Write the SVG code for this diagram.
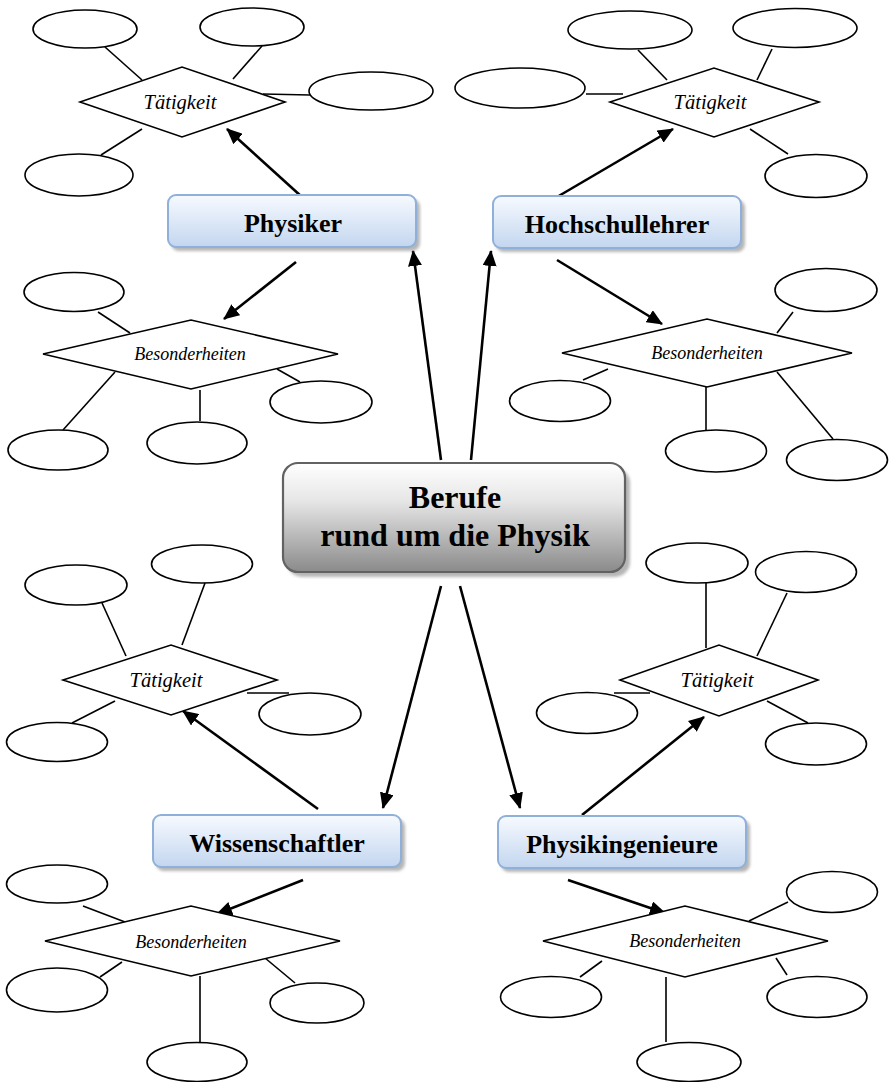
<svg xmlns="http://www.w3.org/2000/svg" width="893" height="1082" viewBox="0 0 893 1082">
  <defs>
    <linearGradient id="blueFill" x1="0" y1="0" x2="0" y2="1">
      <stop offset="0" stop-color="#f7faff"/>
      <stop offset="1" stop-color="#c3d6ef"/>
    </linearGradient>
    <linearGradient id="greyFill" x1="0" y1="0" x2="0" y2="1">
      <stop offset="0" stop-color="#ffffff"/>
      <stop offset="0.35" stop-color="#e6e6e6"/>
      <stop offset="1" stop-color="#8a8a8a"/>
    </linearGradient>
    <filter id="soft" x="-10%" y="-10%" width="120%" height="130%">
      <feGaussianBlur stdDeviation="1.5"/>
    </filter>
    <marker id="arrow" viewBox="0 0 16 14" refX="15" refY="7" markerWidth="16" markerHeight="14" orient="auto" markerUnits="userSpaceOnUse">
      <path d="M0,0 L16,7 L0,14 z" fill="#000"/>
    </marker>
  </defs>
  <style>
    .ell { fill: #fff; stroke: #000; stroke-width: 1.6; }
    .dia { fill: #fff; stroke: #000; stroke-width: 1.6; }
    .link { stroke: #000; stroke-width: 1.6; fill: none; }
    .arr { stroke: #000; stroke-width: 2.6; fill: none; marker-end: url(#arrow); }
    .box { fill: url(#blueFill); stroke: #8fb0d9; stroke-width: 2; }
    .shadow { fill: #7a7a7a; opacity: 0.55; filter: url(#soft); }
    .lbl { font-family: "Liberation Serif", "Times New Roman", serif; font-weight: bold; font-size: 26px; text-anchor: middle; fill: #000; }
    .act { font-family: "Liberation Serif", "Times New Roman", serif; font-style: italic; font-size: 20.5px; text-anchor: middle; fill: #000; }
    .spec { font-family: "Liberation Serif", "Times New Roman", serif; font-style: italic; font-size: 18px; text-anchor: middle; fill: #000; }
    .title { font-family: "Liberation Serif", "Times New Roman", serif; font-weight: bold; font-size: 32px; text-anchor: middle; fill: #000; }
  </style>

  <!-- connectors: attribute links and arrows -->
  <g id="connectors">
    <!-- Physiker / Tätigkeit -->
    <line class="link" x1="105" y1="47" x2="142" y2="80"/>
    <line class="link" x1="262" y1="46" x2="233" y2="79"/>
    <line class="link" x1="263" y1="94" x2="310" y2="95"/>
    <line class="link" x1="142" y1="129" x2="101" y2="155"/>
    <!-- Physiker / Besonderheiten -->
    <line class="link" x1="98" y1="312" x2="130" y2="333"/>
    <line class="link" x1="277" y1="369" x2="300" y2="382"/>
    <line class="link" x1="200" y1="390" x2="200" y2="421"/>
    <line class="link" x1="115" y1="372" x2="63" y2="430"/>
    <!-- Hochschullehrer / Tätigkeit -->
    <line class="link" x1="638" y1="50" x2="667" y2="80"/>
    <line class="link" x1="772" y1="49" x2="757" y2="80"/>
    <line class="link" x1="586" y1="94" x2="623" y2="94"/>
    <line class="link" x1="750" y1="129" x2="788" y2="154"/>
    <!-- Hochschullehrer / Besonderheiten -->
    <line class="link" x1="793" y1="312" x2="777" y2="333"/>
    <line class="link" x1="608" y1="369" x2="583" y2="380"/>
    <line class="link" x1="706" y1="387" x2="706" y2="430"/>
    <line class="link" x1="777" y1="372" x2="833" y2="439"/>
    <!-- Wissenschaftler / Tätigkeit -->
    <line class="link" x1="102" y1="603" x2="126" y2="656"/>
    <line class="link" x1="205" y1="583" x2="182" y2="645"/>
    <line class="link" x1="247" y1="693" x2="289" y2="693"/>
    <line class="link" x1="115" y1="701" x2="72" y2="723"/>
    <!-- Physikingenieure / Tätigkeit -->
    <line class="link" x1="706" y1="583" x2="706" y2="648"/>
    <line class="link" x1="787" y1="593" x2="757" y2="656"/>
    <line class="link" x1="614" y1="693" x2="650" y2="693"/>
    <line class="link" x1="767" y1="701" x2="808" y2="723"/>
    <!-- Wissenschaftler / Besonderheiten -->
    <line class="link" x1="83" y1="906" x2="125" y2="922"/>
    <line class="link" x1="122" y1="962" x2="100" y2="977"/>
    <line class="link" x1="265" y1="958" x2="295" y2="983"/>
    <line class="link" x1="200" y1="976" x2="200" y2="1042"/>
    <!-- Physikingenieure / Besonderheiten -->
    <line class="link" x1="788" y1="902" x2="749" y2="921"/>
    <line class="link" x1="602" y1="961" x2="580" y2="977"/>
    <line class="link" x1="776" y1="958" x2="787" y2="975"/>
    <line class="link" x1="666" y1="977" x2="666" y2="1042"/>

    <!-- arrows from the central topic -->
    <line class="arr" x1="441" y1="460" x2="413" y2="251"/>
    <line class="arr" x1="471" y1="460" x2="491" y2="251"/>
    <line class="arr" x1="441" y1="586" x2="383" y2="808"/>
    <line class="arr" x1="460" y1="586" x2="520" y2="808"/>
    <!-- arrows from the professions to their diamonds -->
    <line class="arr" x1="302" y1="197" x2="227" y2="129"/>
    <line class="arr" x1="296" y1="262" x2="224" y2="319"/>
    <line class="arr" x1="557" y1="197" x2="673" y2="129"/>
    <line class="arr" x1="557" y1="260" x2="662" y2="324"/>
    <line class="arr" x1="318" y1="809" x2="183" y2="711"/>
    <line class="arr" x1="582" y1="815" x2="704" y2="717"/>
    <line class="arr" x1="303" y1="880" x2="217" y2="914"/>
    <line class="arr" x1="568" y1="880" x2="665" y2="913"/>
  </g>

  <!-- central topic -->
  <g id="topic">
    <rect class="shadow" x="287" y="468" width="343" height="109" rx="15"/>
    <rect x="283" y="463" width="342" height="109" rx="15" fill="url(#greyFill)" stroke="#626262" stroke-width="2.2"/>
    <text class="title" x="455" y="508">Berufe</text>
    <text class="title" x="455" y="546">rund um die Physik</text>
  </g>

  <!-- professions -->
  <g id="physiker">
    <rect class="shadow" x="171" y="199" width="249" height="52" rx="8"/>
    <rect class="box" x="168" y="195" width="248" height="52" rx="8"/>
    <text class="lbl" x="293" y="232">Physiker</text>
  </g>
  <g id="hochschullehrer">
    <rect class="shadow" x="496" y="200" width="249" height="52" rx="8"/>
    <rect class="box" x="493" y="196" width="248" height="52" rx="8"/>
    <text class="lbl" x="617" y="233">Hochschullehrer</text>
  </g>
  <g id="wissenschaftler">
    <rect class="shadow" x="156" y="819" width="249" height="52" rx="8"/>
    <rect class="box" x="153" y="815" width="248" height="52" rx="8"/>
    <text class="lbl" x="277" y="852">Wissenschaftler</text>
  </g>
  <g id="physikingenieure">
    <rect class="shadow" x="501" y="820" width="249" height="52" rx="8"/>
    <rect class="box" x="498" y="816" width="248" height="52" rx="8"/>
    <text class="lbl" x="622" y="853">Physikingenieure</text>
  </g>

  <!-- Physiker: Tätigkeit -->
  <g id="physiker-taetigkeit">
    <polygon class="dia" points="80,102 182,67 285,102 182,137"/>
    <text class="act" x="180" y="109">Tätigkeit</text>
    <ellipse class="ell" cx="85" cy="29" rx="52" ry="19"/>
    <ellipse class="ell" cx="252" cy="27" rx="52" ry="19"/>
    <ellipse class="ell" cx="371" cy="91" rx="62" ry="19"/>
    <ellipse class="ell" cx="79" cy="175" rx="54" ry="21"/>
  </g>
  <!-- Physiker: Besonderheiten -->
  <g id="physiker-besonderheiten">
    <polygon class="dia" points="43,354 191,320 338,354 191,389"/>
    <text class="spec" x="190" y="360">Besonderheiten</text>
    <ellipse class="ell" cx="74" cy="292" rx="50" ry="19.5"/>
    <ellipse class="ell" cx="321" cy="402" rx="51" ry="21"/>
    <ellipse class="ell" cx="197" cy="443" rx="50" ry="21"/>
    <ellipse class="ell" cx="58" cy="450" rx="50" ry="20"/>
  </g>

  <!-- Hochschullehrer: Tätigkeit -->
  <g id="hochschullehrer-taetigkeit">
    <polygon class="dia" points="610,102 714,68 819,102 714,137"/>
    <text class="act" x="710" y="109">Tätigkeit</text>
    <ellipse class="ell" cx="630" cy="30" rx="62" ry="19"/>
    <ellipse class="ell" cx="795" cy="28" rx="62" ry="19.5"/>
    <ellipse class="ell" cx="520" cy="88" rx="65" ry="20"/>
    <ellipse class="ell" cx="816" cy="176" rx="51" ry="21.5"/>
  </g>
  <!-- Hochschullehrer: Besonderheiten -->
  <g id="hochschullehrer-besonderheiten">
    <polygon class="dia" points="562,353 707,319 852,353 707,387"/>
    <text class="spec" x="707" y="359">Besonderheiten</text>
    <ellipse class="ell" cx="826" cy="290" rx="51" ry="21.5"/>
    <ellipse class="ell" cx="560" cy="401" rx="50.5" ry="20.5"/>
    <ellipse class="ell" cx="716" cy="451" rx="50.5" ry="21"/>
    <ellipse class="ell" cx="837" cy="460" rx="50.5" ry="20.5"/>
  </g>

  <!-- Wissenschaftler: Tätigkeit -->
  <g id="wissenschaftler-taetigkeit">
    <polygon class="dia" points="63,680 171,645 277,680 171,715"/>
    <text class="act" x="166" y="687">Tätigkeit</text>
    <ellipse class="ell" cx="76" cy="585" rx="51" ry="20"/>
    <ellipse class="ell" cx="202" cy="564" rx="50.5" ry="19"/>
    <ellipse class="ell" cx="310" cy="714" rx="51" ry="21"/>
    <ellipse class="ell" cx="57" cy="742" rx="50.5" ry="19.5"/>
  </g>
  <!-- Wissenschaftler: Besonderheiten -->
  <g id="wissenschaftler-besonderheiten">
    <polygon class="dia" points="45,941 191,906 340,941 191,976"/>
    <text class="spec" x="191" y="948">Besonderheiten</text>
    <ellipse class="ell" cx="57" cy="884" rx="50.5" ry="19"/>
    <ellipse class="ell" cx="57" cy="990" rx="50.5" ry="22"/>
    <ellipse class="ell" cx="317" cy="1003" rx="47" ry="20"/>
    <ellipse class="ell" cx="197" cy="1062" rx="50" ry="19.5"/>
  </g>

  <!-- Physikingenieure: Tätigkeit -->
  <g id="physikingenieure-taetigkeit">
    <polygon class="dia" points="620,680 719,645 818,680 719,716"/>
    <text class="act" x="717" y="687">Tätigkeit</text>
    <ellipse class="ell" cx="697" cy="563" rx="51" ry="20"/>
    <ellipse class="ell" cx="806" cy="572" rx="50.5" ry="20.5"/>
    <ellipse class="ell" cx="587" cy="713" rx="50.5" ry="20.5"/>
    <ellipse class="ell" cx="816" cy="744" rx="50.5" ry="21"/>
  </g>
  <!-- Physikingenieure: Besonderheiten -->
  <g id="physikingenieure-besonderheiten">
    <polygon class="dia" points="543,941 685,906 828,941 685,977"/>
    <text class="spec" x="685" y="947">Besonderheiten</text>
    <ellipse class="ell" cx="832" cy="892" rx="45.5" ry="20.5"/>
    <ellipse class="ell" cx="551" cy="997" rx="50.5" ry="20.5"/>
    <ellipse class="ell" cx="817" cy="997" rx="50" ry="20.5"/>
    <ellipse class="ell" cx="689" cy="1062" rx="52" ry="19.5"/>
  </g>
</svg>
